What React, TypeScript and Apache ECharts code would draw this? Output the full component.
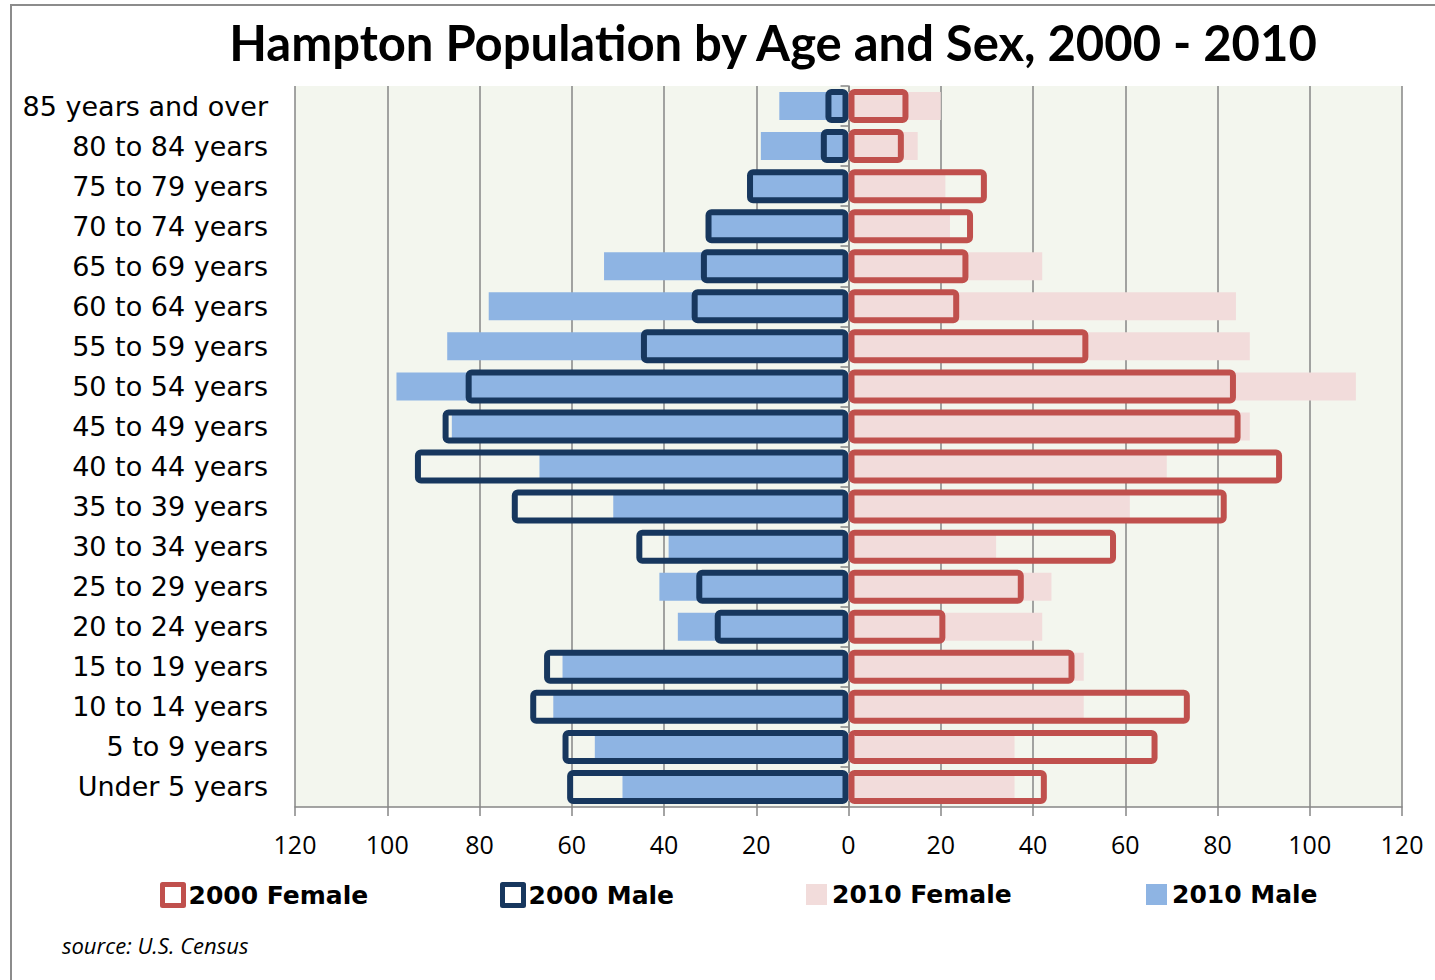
import React, { useEffect, useRef } from "react";
import * as echarts from "echarts";

const categories = [
  "85 years and over", "80 to 84 years", "75 to 79 years", "70 to 74 years",
  "65 to 69 years", "60 to 64 years", "55 to 59 years", "50 to 54 years",
  "45 to 49 years", "40 to 44 years", "35 to 39 years", "30 to 34 years",
  "25 to 29 years", "20 to 24 years", "15 to 19 years", "10 to 14 years",
  "5 to 9 years", "Under 5 years",
];
const male2010 = [15, 19, 21, 30, 53, 78, 87, 98, 86, 67, 51, 39, 41, 37, 62, 64, 55, 49];
const male2000 = [5, 6, 22, 31, 32, 34, 45, 83, 88, 94, 73, 46, 33, 29, 66, 69, 62, 61];
const female2010 = [20, 15, 21, 22, 42, 84, 87, 110, 87, 69, 61, 32, 44, 42, 51, 51, 36, 36];
const female2000 = [13, 12, 30, 27, 26, 24, 52, 84, 85, 94, 82, 58, 38, 21, 49, 74, 67, 43];
const xTicks = { min: -120, max: 120, interval: 20 };

const C_F00 = "#c0504d";
const C_M00 = "#17375e";
const C_F10 = "#f2dcdb";
const C_M10 = "#8eb4e3";

export default function App() {
  const ref = useRef<HTMLDivElement>(null);
  useEffect(() => {
    document.body.style.margin = "0";
    const chart = echarts.init(ref.current!, null, { renderer: "svg" });
    const legendText = {
      fontFamily: "'DejaVu Sans', sans-serif",
      fontWeight: "bold" as const,
      fontSize: 25,
      color: "#000",
    };
    const mkLegend = (name: string, left: number, itemStyle: any) => ({
      left,
      top: 882,
      padding: 0,
      itemWidth: 21,
      itemHeight: 21,
      icon: "rect",
      textStyle: legendText,
      selectedMode: false,
      data: [{ name, itemStyle }],
    });
    const outline = (color: string) => ({
      color: "rgba(0,0,0,0)",
      borderColor: color,
      borderWidth: 6,
      borderJoin: "round",
      borderRadius: 3,
    });
    const catAxisBase = {
      type: "category",
      data: categories,
      inverse: true,
    };
    chart.setOption({
      animation: false,
      backgroundColor: "#fff",
      title: {
        text: "Hampton Population by Age and Sex, 2000 - 2010",
        left: 768,
        textAlign: "center",
        top: 12,
        textStyle: {
          fontFamily: "Lato, 'Noto Sans', sans-serif",
          fontWeight: "bold",
          fontSize: 49,
          color: "#000",
        },
      },
      legend: [
        mkLegend("2000 Female", 160, { color: "#fff", borderColor: C_F00, borderWidth: 5 }),
        mkLegend("2000 Male", 500, { color: "#fff", borderColor: C_M00, borderWidth: 5 }),
        mkLegend("2010 Female", 806, { color: C_F10, borderWidth: 0 }),
        mkLegend("2010 Male", 1146, { color: C_M10, borderWidth: 0 }),
      ],
      grid: {
        left: 295,
        right: 33,
        top: 86,
        bottom: 173,
        show: true,
        backgroundColor: "#f3f6ee",
        borderWidth: 0,
      },
      xAxis: {
        type: "value",
        min: xTicks.min,
        max: xTicks.max,
        interval: xTicks.interval,
        axisLine: { show: true, lineStyle: { color: "#868686", width: 1.5 } },
        axisTick: { show: true, length: 9, lineStyle: { color: "#868686", width: 1.5 } },
        splitLine: { show: true, lineStyle: { color: "#868686", width: 1.5 } },
        axisLabel: {
          formatter: (v: number) => String(Math.abs(v)),
          margin: 24,
          fontFamily: "'Open Sans', sans-serif",
          fontSize: 25,
          color: "#000",
        },
      },
      yAxis: [
        {
          ...catAxisBase,
          axisLine: { show: true, onZero: true, lineStyle: { color: "#868686", width: 1.5 } },
          axisTick: { show: true, length: 8, lineStyle: { color: "#868686", width: 1.5 } },
          axisLabel: {
            margin: 27,
            fontFamily: "'DejaVu Sans', sans-serif",
            fontSize: 27,
            color: "#000",
          },
        },
        {
          ...catAxisBase,
          show: false,
          axisLine: { show: false },
          axisTick: { show: false },
          axisLabel: { show: false },
        },
      ],
      series: [
        {
          name: "2010 Male",
          type: "bar",
          yAxisIndex: 0,
          data: male2010.map((v) => -v),
          barWidth: 28,
          barGap: "-100%",
          itemStyle: { color: C_M10 },
          z: 2,
        },
        {
          name: "2010 Female",
          type: "bar",
          yAxisIndex: 0,
          data: female2010,
          barWidth: 28,
          barGap: "-100%",
          itemStyle: { color: C_F10 },
          z: 2,
        },
        {
          name: "2000 Male",
          type: "bar",
          yAxisIndex: 1,
          data: male2000.map((v) => -v),
          barWidth: 34,
          barGap: "-100%",
          itemStyle: outline(C_M00),
          z: 3,
        },
        {
          name: "2000 Female",
          type: "bar",
          yAxisIndex: 1,
          data: female2000,
          barWidth: 34,
          barGap: "-100%",
          itemStyle: outline(C_F00),
          z: 3,
        },
      ],
      graphic: [
        {
          type: "rect",
          shape: { x: 11, y: 5, width: 1500, height: 1100 },
          style: { fill: "none", stroke: "#8c8c8c", lineWidth: 2 },
          silent: true,
        },
        {
          type: "text",
          left: 62,
          top: 934,
          style: {
            text: "source: U.S. Census",
            font: "italic 22px 'Open Sans', sans-serif",
            fill: "#000",
          },
        },
      ],
    });
    return () => chart.dispose();
  }, []);
  return (
    <div
      ref={ref}
      style={{ position: "fixed", left: 0, top: 0, width: 1435, height: 980 }}
    />
  );
}
